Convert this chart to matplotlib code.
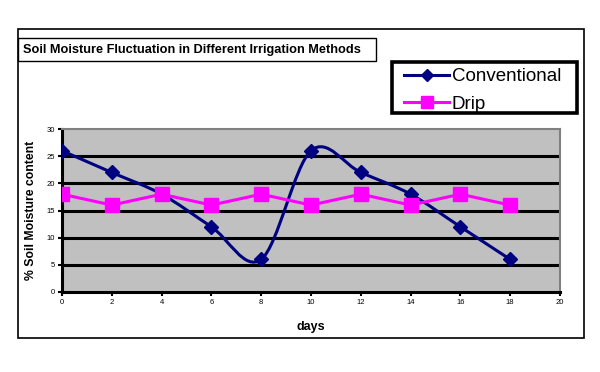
import numpy as np
import matplotlib.pyplot as plt
from matplotlib.path import Path
from matplotlib.patches import PathPatch, Rectangle
from matplotlib.lines import Line2D

plt.rcParams['font.family'] = ['Liberation Sans', 'DejaVu Sans']

days = [0, 2, 4, 6, 8, 10, 12, 14, 16, 18]
conventional = [26, 22, 18, 12, 6, 26, 22, 18, 12, 6]
drip = [18, 16, 18, 16, 18, 16, 18, 16, 18, 16]
x_ticks = [0, 2, 4, 6, 8, 10, 12, 14, 16, 18, 20]
y_ticks = [0, 5, 10, 15, 20, 25, 30]

NAVY = '#000080'
MAGENTA = '#FF00FF'
W, H = 600, 372


def smooth_path(xs, ys):
    # excel style smoothed line: bezier segments through every point
    p = np.column_stack([xs, ys]).astype(float)
    n = len(p)
    verts = [p[0]]
    codes = [Path.MOVETO]
    for i in range(n - 1):
        prev = p[i - 1] if i > 0 else p[i]
        nxt = p[i + 2] if i + 2 < n else p[i + 1]
        c1 = p[i] + (p[i + 1] - prev) / 6
        c2 = p[i + 1] - (nxt - p[i]) / 6
        verts += [c1, c2, p[i + 1]]
        codes += [Path.CURVE4] * 3
    return Path(verts, codes)


def px_box(x0, y0, x1, y1, **kw):
    # rectangle given in pixel coords (top-left origin)
    return Rectangle((x0 / W, 1 - y1 / H), (x1 - x0) / W, (y1 - y0) / H,
                     transform=fig.transFigure, **kw)


fig = plt.figure(figsize=(6, 3.72), dpi=100)

# outer chart frame, title box, legend box
fig.patches.append(px_box(18, 29, 584, 338, fill=False, edgecolor='black', linewidth=1.2))
fig.patches.append(px_box(18, 38, 376, 61, facecolor='white', edgecolor='black', linewidth=1.0))
fig.patches.append(px_box(392, 62, 577, 113, facecolor='white', edgecolor='black',
                          linewidth=2.6, zorder=0))
fig.text(23 / W, 1 - 50 / H, 'Soil Moisture Fluctuation in Different Irrigation Methods',
         fontsize=9.2, fontweight='bold', va='center', ha='left')

ax = fig.add_axes([62 / W, 1 - 292 / H, 498 / W, 163 / H])
ax.set_facecolor('#C0C0C0')
ax.set_xlim(0, 20)
ax.set_ylim(0, 30)

for y in y_ticks[1:-1]:
    ax.axhline(y, color='black', linewidth=2.2, zorder=1)

ax.add_patch(PathPatch(smooth_path(days, conventional), fill=False,
                       edgecolor=NAVY, linewidth=2.2, zorder=3))
ax.plot(days, conventional, linestyle='none', marker='D', markersize=7,
        color=NAVY, zorder=4)
ax.plot(days, drip, color=MAGENTA, linewidth=2.2, marker='s', markersize=9.5,
        zorder=5)

ax.set_xticks(x_ticks)
ax.set_yticks(y_ticks)
ax.tick_params(labelsize=5.5, length=3, width=1.5, pad=2)
for s in ['left', 'bottom']:
    ax.spines[s].set_linewidth(2.2)
for s in ['top', 'right']:
    ax.spines[s].set_color('#808080')
    ax.spines[s].set_linewidth(1.5)

ax.set_xlabel('days', fontsize=9, fontweight='bold', labelpad=11)
ax.set_ylabel('% Soil Moisture content', fontsize=8.8, fontweight='bold', labelpad=7)

handles = [
    Line2D([], [], color=NAVY, linewidth=2.2, marker='D', markersize=6),
    Line2D([], [], color=MAGENTA, linewidth=2.2, marker='s', markersize=9),
]
leg = fig.legend(handles, ['Conventional', 'Drip'], loc='center left',
                 bbox_to_anchor=(404 / W, 1 - 90.5 / H), fontsize=13.5, frameon=False,
                 handlelength=2.4, handletextpad=0.15, borderpad=0,
                 labelspacing=0.55, borderaxespad=0)

fig.savefig('out.png', dpi=100)
